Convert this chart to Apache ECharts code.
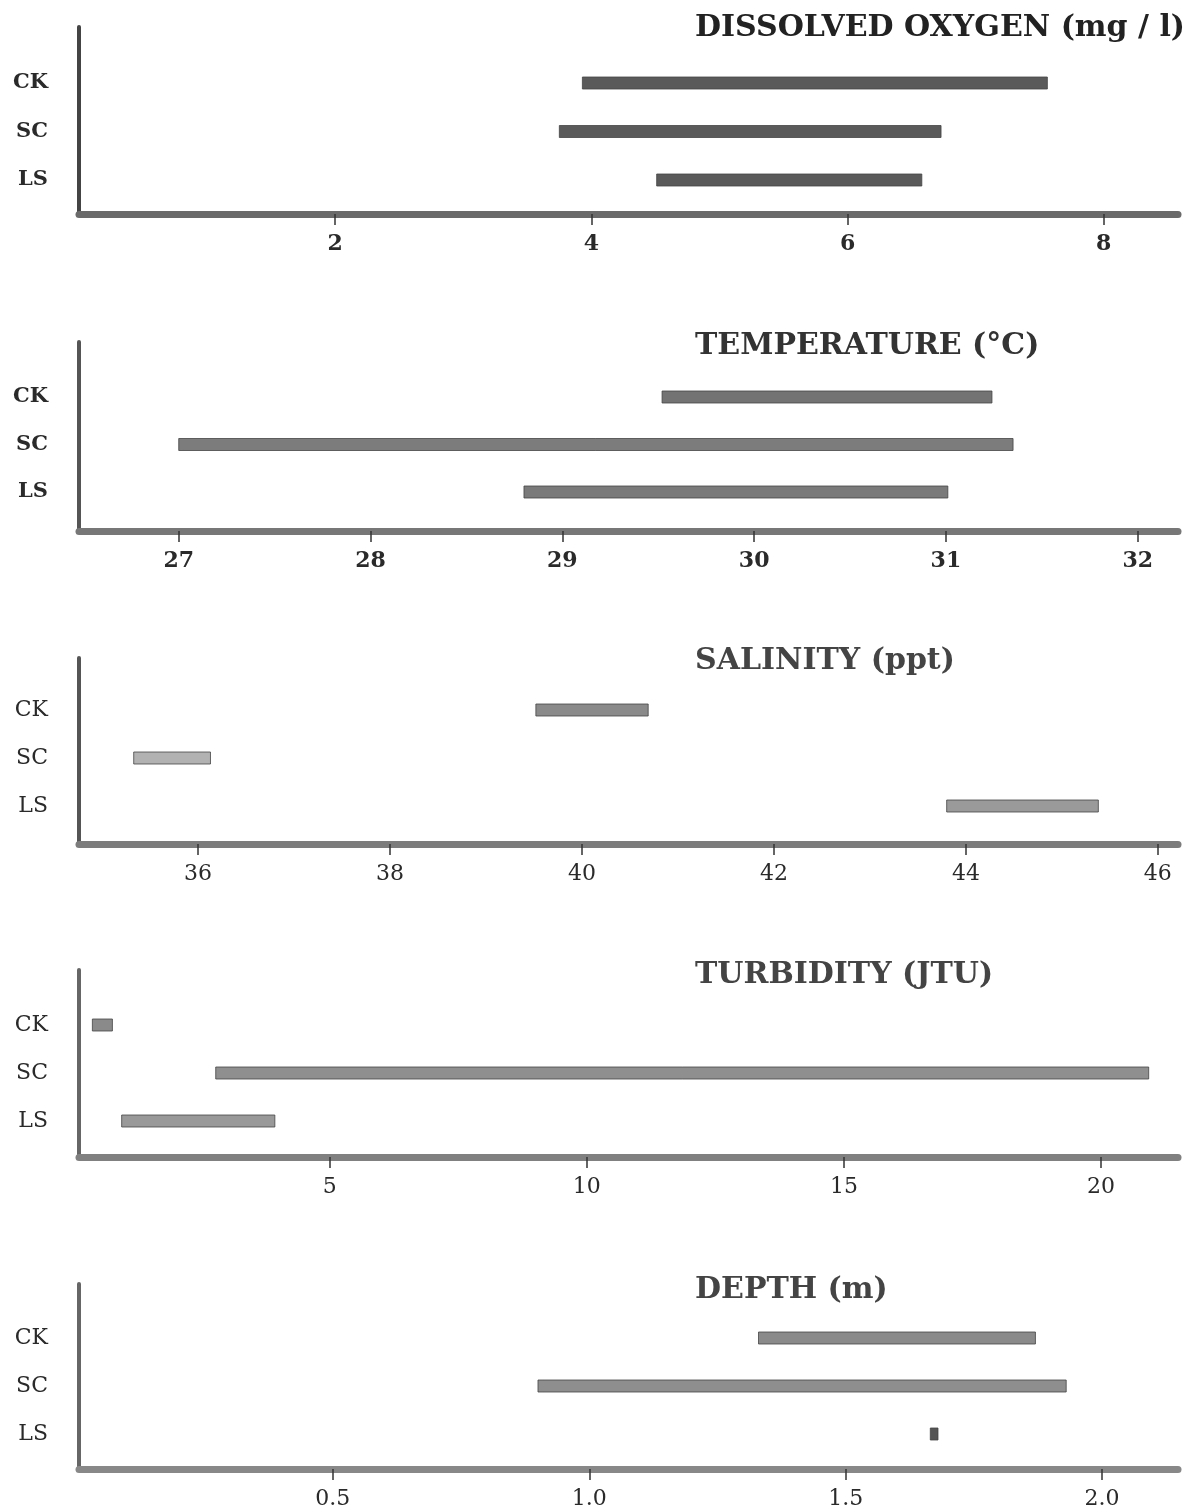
<!DOCTYPE html>
<html>
<head>
<meta charset="utf-8">
<script src="https://cdn.jsdelivr.net/npm/echarts@6/dist/echarts.min.js"></script>
<style>html,body{margin:0;padding:0;background:#fff;}#c{width:1199px;height:1512px;}</style>
</head>
<body>
<div id="c"></div>
<script>
// ---- data (categories listed top to bottom) ----
const categories = ['CK', 'SC', 'LS'];

const doTitle = 'DISSOLVED OXYGEN (mg / l)';
const doLow  = [3.93, 3.75, 4.51];
const doHigh = [7.56, 6.73, 6.58];
const doTicks = [2, 4, 6, 8];

const tempTitle = 'TEMPERATURE (°C)';
const tempLow  = [29.52, 27.00, 28.80];
const tempHigh = [31.24, 31.35, 31.01];
const tempTicks = [27, 28, 29, 30, 31, 32];

const salTitle = 'SALINITY (ppt)';
const salLow  = [39.52, 35.33, 43.80];
const salHigh = [40.69, 36.13, 45.38];
const salTicks = [36, 38, 40, 42, 44, 46];

const turbTitle = 'TURBIDITY (JTU)';
const turbLow  = [0.38, 2.78, 0.95];
const turbHigh = [0.77, 20.93, 3.93];
const turbTicks = [5, 10, 15, 20];

const depthTitle = 'DEPTH (m)';
const depthLow  = [1.33, 0.90, 1.665];
const depthHigh = [1.87, 1.93, 1.68];
const depthTicks = [0.5, 1.0, 1.5, 2.0];

// ---- layout / style per panel ----
const panels = [
  {title: doTitle, low: doLow, high: doHigh, ticks: doTicks, dec: 0,
   xmin: 0, xmax: 8.58, T: 27, B: 214, yC: 83, yL: 180, titleY: 29,
   bold: true, titleColor: '#222', barColor: ['#5a5a5a', '#5a5a5a', '#5a5a5a'], axisColor: '#6a6a6a', yAxisColor: '#444'},
  {title: tempTitle, low: tempLow, high: tempHigh, ticks: tempTicks, dec: 0,
   xmin: 26.48, xmax: 32.21, T: 342, B: 531, yC: 397, yL: 492, titleY: 347,
   bold: true, titleColor: '#333', barColor: ['#737373', '#7c7c7c', '#7a7a7a'], axisColor: '#777', yAxisColor: '#555'},
  {title: salTitle, low: salLow, high: salHigh, ticks: salTicks, dec: 0,
   xmin: 34.76, xmax: 46.21, T: 658, B: 844, yC: 710, yL: 806, titleY: 662,
   bold: false, titleColor: '#444', barColor: ['#8a8a8a', '#b2b2b2', '#9a9a9a'], axisColor: '#7c7c7c', yAxisColor: '#555'},
  {title: turbTitle, low: turbLow, high: turbHigh, ticks: turbTicks, dec: 0,
   xmin: 0.12, xmax: 21.5, T: 970, B: 1157, yC: 1025, yL: 1121, titleY: 976,
   bold: false, titleColor: '#444', barColor: ['#8a8a8a', '#8f8f8f', '#999'], axisColor: '#808080', yAxisColor: '#666'},
  {title: depthTitle, low: depthLow, high: depthHigh, ticks: depthTicks, dec: 1,
   xmin: 0.005, xmax: 2.148, T: 1284, B: 1469, yC: 1338, yL: 1434, titleY: 1291,
   bold: false, titleColor: '#444', barColor: ['#8a8a8a', '#8e8e8e', '#555'], axisColor: '#888', yAxisColor: '#666'}
];

const GRID_LEFT = 79, GRID_RIGHT = 21, BAR_H = 12;
const FONT = 'DejaVu Serif';

const option = {
  animation: false,
  backgroundColor: '#fff',
  title: [], grid: [], xAxis: [], yAxis: [], series: []
};

panels.forEach((p, i) => {
  const unit = (p.yL - p.yC) / 2;
  const ymin = -(p.B - p.yL) / unit;
  const ymax = 2 + (p.yC - p.T) / unit;
  option.title.push({
    text: p.title, left: 695, top: p.titleY - 16, padding: 0,
    textStyle: {fontFamily: FONT, fontSize: 30, fontWeight: 'bold', color: p.titleColor}
  });
  option.grid.push({left: GRID_LEFT, right: GRID_RIGHT, top: p.T, height: p.B - p.T});
  option.xAxis.push({
    type: 'value', gridIndex: i, min: p.xmin, max: p.xmax,
    axisLine: {show: true, onZero: false, lineStyle: {color: p.axisColor, width: 7}},
    axisTick: {show: true, customValues: p.ticks, length: 11, lineStyle: {color: '#333', width: 1.5}},
    axisLabel: {show: true, customValues: p.ticks, margin: 19,
      formatter: v => Number(v).toFixed(p.dec),
      fontFamily: FONT, fontSize: 22, fontWeight: p.bold ? 'bold' : 'normal', color: '#2a2a2a'},
    splitLine: {show: false}
  });
  option.yAxis.push({
    type: 'value', gridIndex: i, min: ymin, max: ymax,
    axisLine: {show: true, onZero: false, lineStyle: {color: p.yAxisColor, width: 4}},
    axisTick: {show: false},
    axisLabel: {show: true, customValues: [0, 1, 2], margin: 31,
      formatter: v => categories[2 - Math.round(v)],
      fontFamily: FONT, fontSize: p.bold ? 21 : 22, fontWeight: p.bold ? 'bold' : 'normal', color: '#2a2a2a'},
    splitLine: {show: false}
  });
  const data = categories.map((c, k) => [2 - k, p.low[k], p.high[k], k]);
  option.series.push({
    type: 'custom', xAxisIndex: i, yAxisIndex: i,
    encode: {x: [1, 2], y: 0},
    data: data,
    renderItem: (params, api) => {
      const y = api.value(0);
      const a = api.coord([api.value(1), y]);
      const b = api.coord([api.value(2), y]);
      const k = api.value(3);
      return {
        type: 'rect',
        shape: {x: a[0], y: a[1] - BAR_H / 2, width: Math.max(b[0] - a[0], 4), height: BAR_H},
        style: {fill: p.barColor[k], stroke: '#444', lineWidth: 0.8}
      };
    }
  });
});

const chart = echarts.init(document.getElementById('c'), null, {renderer: 'canvas'});
chart.setOption(option);
</script>
</body>
</html>
